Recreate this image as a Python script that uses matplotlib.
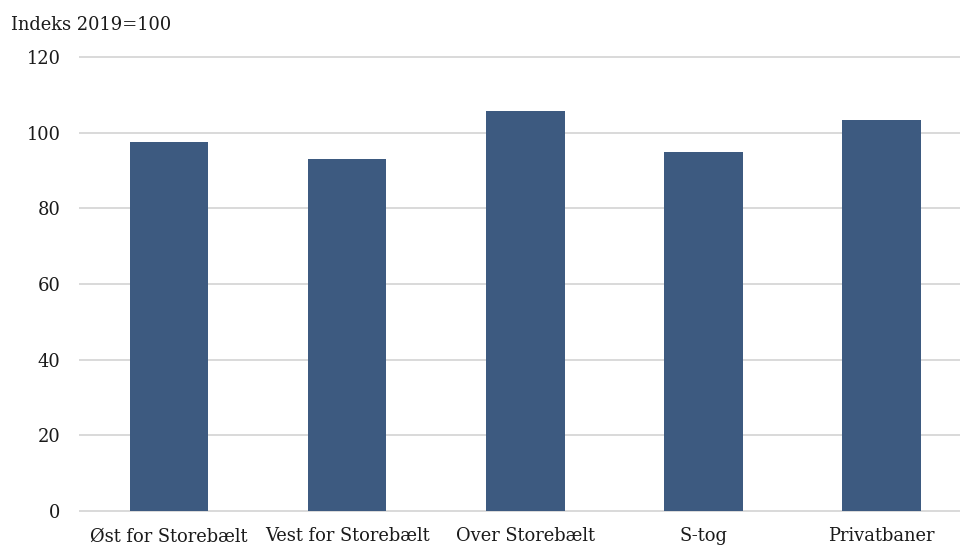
import matplotlib
matplotlib.use("Agg")
import matplotlib.pyplot as plt

# passagerer pr. strækning, indeks 2019=100
categories = ["Øst for Storebælt", "Vest for Storebælt", "Over Storebælt", "S-tog", "Privatbaner"]
values = [97.6, 93.1, 105.9, 94.9, 103.4]
yticks = [0, 20, 40, 60, 80, 100, 120]

plt.rcParams["font.family"] = ["DejaVu Serif"]
fs = 12.9

fig = plt.figure(figsize=(9.6, 5.47), dpi=100)
ax = fig.add_axes([80 / 960, 36.3 / 547, 1 - 80 / 960, 453.4 / 547])

x = range(len(categories))
ax.bar(x, values, width=0.44, color="#3D5A80", zorder=3)

ax.set_ylim(0, 120)
ax.set_xlim(-0.5, 4.44)
ax.set_yticks(yticks)
ax.set_yticklabels([str(t) for t in yticks], fontsize=fs, color="#1a1a1a")
ax.set_xticks(list(x))
ax.set_xticklabels(categories, fontsize=fs, color="#1a1a1a")

for t in yticks:
    ax.axhline(t, color="#D9D9D9", lw=1.4, zorder=1, clip_on=False)

for s in ax.spines.values():
    s.set_visible(False)
ax.tick_params(axis="both", length=0)
ax.tick_params(axis="y", pad=14)
ax.tick_params(axis="x", pad=12)

fig.text(11 / 960, 1 - 25 / 547, "Indeks 2019=100", fontsize=fs, color="#1a1a1a",
         ha="left", va="center")

fig.savefig("out.png", dpi=100)
